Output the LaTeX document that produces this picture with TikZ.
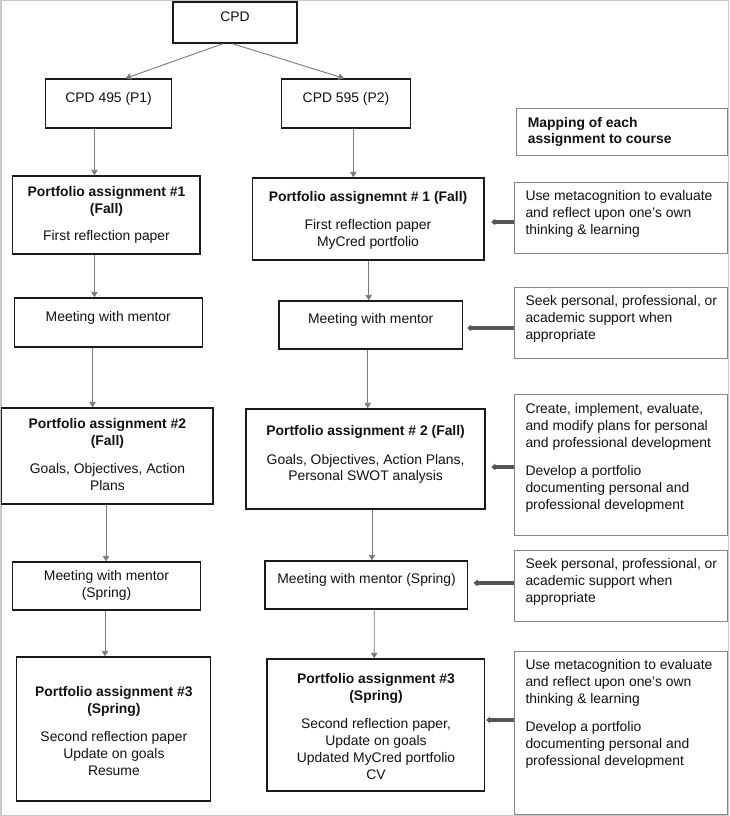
\documentclass[tikz,border=0pt]{standalone}
\usepackage{fontspec}
\setmainfont{Liberation Sans}
\usetikzlibrary{arrows.meta,calc}
\definecolor{boxline}{HTML}{1A1A1A}
\definecolor{mapline}{HTML}{858585}
\definecolor{thinarr}{HTML}{7A7A7A}
\definecolor{thickarr}{HTML}{555555}
\definecolor{framegray}{HTML}{C8C8C8}
\definecolor{txt}{HTML}{111111}
\begin{document}
\begin{tikzpicture}[x=1pt,y=-1pt,
  every node/.style={font=\fontsize{13.9}{17}\selectfont, text=txt},
  bbox/.style={draw=boxline, line width=1.4pt, rectangle, inner sep=0pt},
  mbox/.style={draw=mapline, line width=1pt, rectangle, inner sep=0pt},
  ctext/.style={align=center, inner sep=0pt},
  ltext/.style={align=left, inner sep=0pt, anchor=west},
  thinarrow/.style={draw=thinarr, line width=0.9pt, -{Triangle[length=5.5pt,width=6.5pt]}, shorten >=0pt},
  thickarrow/.style={draw=thickarr, line width=3.4pt, -{Triangle[length=4pt,width=6.5pt]}}
]
\useasboundingbox (0,0) rectangle (729,816);
\draw[framegray, line width=1.5pt] (0.75,0.75) rectangle (728.25,815.25);

% boxes
\node[bbox, minimum width=124pt, minimum height=41pt] (cpd) at (235,22.5) {};
\node[bbox, minimum width=125.9pt, minimum height=49pt] (p1) at (108.55,103.5) {};
\node[bbox, minimum width=128.8pt, minimum height=49pt] (p2) at (346.1,103.5) {};
\node[mbox, minimum width=211pt, minimum height=47pt] (map) at (622,131.5) {};

\node[bbox, minimum width=187.4pt, minimum height=78pt] (a1l) at (106.3,215) {};
\node[bbox, minimum width=231.6pt, minimum height=82pt] (a1r) at (368.2,219) {};
\node[mbox, minimum width=213pt, minimum height=71pt] (r1) at (621.1,217.5) {};

\node[bbox, minimum width=188.3pt, minimum height=49pt] (m1l) at (108.55,322.5) {};
\node[bbox, minimum width=183.6pt, minimum height=48pt] (m1r) at (370.8,325) {};
\node[mbox, minimum width=213pt, minimum height=71pt] (r2) at (621.1,322.5) {};

\node[bbox, minimum width=211.6pt, minimum height=96pt] (a2l) at (107.2,456) {};
\node[bbox, minimum width=239pt, minimum height=100pt] (a2r) at (365.5,459) {};
\node[mbox, minimum width=213pt, minimum height=141pt] (r3) at (621.1,464.5) {};

\node[bbox, minimum width=187.8pt, minimum height=48pt] (m2l) at (106.5,586) {};
\node[bbox, minimum width=202.7pt, minimum height=48pt] (m2r) at (366.35,585) {};
\node[mbox, minimum width=213pt, minimum height=71pt] (r4) at (621.1,585.5) {};

\node[bbox, minimum width=194.3pt, minimum height=144pt] (a3l) at (113.45,729) {};
\node[bbox, minimum width=217.5pt, minimum height=132pt] (a3r) at (375.65,725) {};
\node[mbox, minimum width=213pt, minimum height=163pt] (r5) at (621.1,732.5) {};

% texts
\node[ctext] (tcpd) at (235,17) {CPD};
\node[ctext] (tp1) at (108.6,99) {CPD 495 (P1)};
\node[ctext] (tp2) at (346,99) {CPD 595 (P2)};
\node[ltext, font=\fontsize{13.9}{16.6}\selectfont\bfseries] (tmap) at (527.7,132) {Mapping of each\\assignment to course};

\node[ctext] (ta1l) at (106.5,215) {\textbf{Portfolio assignment \#1}\\\textbf{(Fall)}\\[10pt]First reflection paper};
\node[ctext] (ta1r) at (368,220.5) {\textbf{Portfolio assignemnt \# 1 (Fall)}\\[11pt]First reflection paper\\MyCred portfolio};
\node[ltext] (tr1) at (525.3,214.4) {Use metacognition to evaluate\\and reflect upon one’s own\\thinking \& learning};

\node[ctext] (tm1l) at (108.3,317.5) {Meeting with mentor};
\node[ctext] (tm1r) at (370.7,319.8) {Meeting with mentor};
\node[ltext] (tr2) at (525.3,319.4) {Seek personal, professional, or\\academic support when\\appropriate};

\node[ctext] (ta2l) at (107.4,454.7) {\textbf{Portfolio assignment \#2}\\\textbf{(Fall)}\\[11pt]Goals, Objectives, Action\\Plans};
\node[ctext] (ta2r) at (365.6,454.9) {\textbf{Portfolio assignment \# 2 (Fall)}\\[11pt]Goals, Objectives, Action Plans,\\Personal SWOT analysis};
\node[ltext] (tr3) at (525.3,457.9) {Create, implement, evaluate,\\and modify plans for personal\\and professional development\\[11pt]Develop a portfolio\\documenting personal and\\professional development};

\node[ctext] (tm2l) at (106.5,585.5) {Meeting with mentor\\(Spring)};
\node[ctext] (tm2r) at (366.6,580) {Meeting with mentor (Spring)};
\node[ltext] (tr4) at (525.3,581.8) {Seek personal, professional, or\\academic support when\\appropriate};

\node[ctext] (ta3l) at (113.9,730.7) {\textbf{Portfolio assignment \#3}\\\textbf{(Spring)}\\[11pt]Second reflection paper\\Update on goals\\Resume};
\node[ctext] (ta3r) at (376,726.9) {\textbf{Portfolio assignment \#3}\\\textbf{(Spring)}\\[11pt]Second reflection paper,\\Update on goals\\Updated MyCred portfolio\\CV};
\node[ltext] (tr5) at (525.3,713.7) {Use metacognition to evaluate\\and reflect upon one’s own\\thinking \& learning\\[11pt]Develop a portfolio\\documenting personal and\\professional development};

% thin arrows
\draw[thinarrow] ([xshift=-12pt]cpd.south) -- ([xshift=17pt]p1.north);
\draw[thinarrow] ([xshift=-2.5pt]cpd.south) -- ([xshift=-2.1pt]p2.north);
\draw[thinarrow] ([xshift=-14.15pt]p1.south) -- ([xshift=-11.9pt]a1l.north);
\draw[thinarrow] ([xshift=7.2pt]p2.south) -- ([xshift=-14.9pt]a1r.north);
\draw[thinarrow] ([xshift=-11.9pt]a1l.south) -- ([xshift=-14.15pt]m1l.north);
\draw[thinarrow] ([xshift=0.5pt]a1r.south) -- ([xshift=-2.1pt]m1r.north);
\draw[thinarrow] ([xshift=-16pt]m1l.south) -- ([xshift=-14.7pt]a2l.north);
\draw[thinarrow] ([xshift=-3.1pt]m1r.south) -- ([xshift=2.2pt]a2r.north);
\draw[thinarrow] ([xshift=-1.2pt]a2l.south) -- ([xshift=-0.5pt]m2l.north);
\draw[thinarrow] ([xshift=6.5pt]a2r.south) -- ([xshift=5.65pt]m2r.north);
\draw[thinarrow] ([xshift=-1.5pt]m2l.south) -- ([xshift=-8.45pt]a3l.north);
\draw[thinarrow] ([xshift=7.85pt]m2r.south) -- ([xshift=-1.45pt]a3r.north);

% thick arrows
\draw[thickarrow] ($(r1.west)+(0,4.5)$) -- ($(a1r.east)+(6.5,3)$);
\draw[thickarrow] ($(r2.west)+(0,5.5)$) -- ($(m1r.east)+(3.9,3)$);
\draw[thickarrow] ($(r3.west)+(0,2.5)$) -- ($(a2r.east)+(5.6,8)$);
\draw[thickarrow] ($(r4.west)+(0,-2.5)$) -- ($(m2r.east)+(5.1,-2)$);
\draw[thickarrow] ($(r5.west)+(0,-12.5)$) -- ($(a3r.east)+(1,-5)$);
\end{tikzpicture}
\end{document}
